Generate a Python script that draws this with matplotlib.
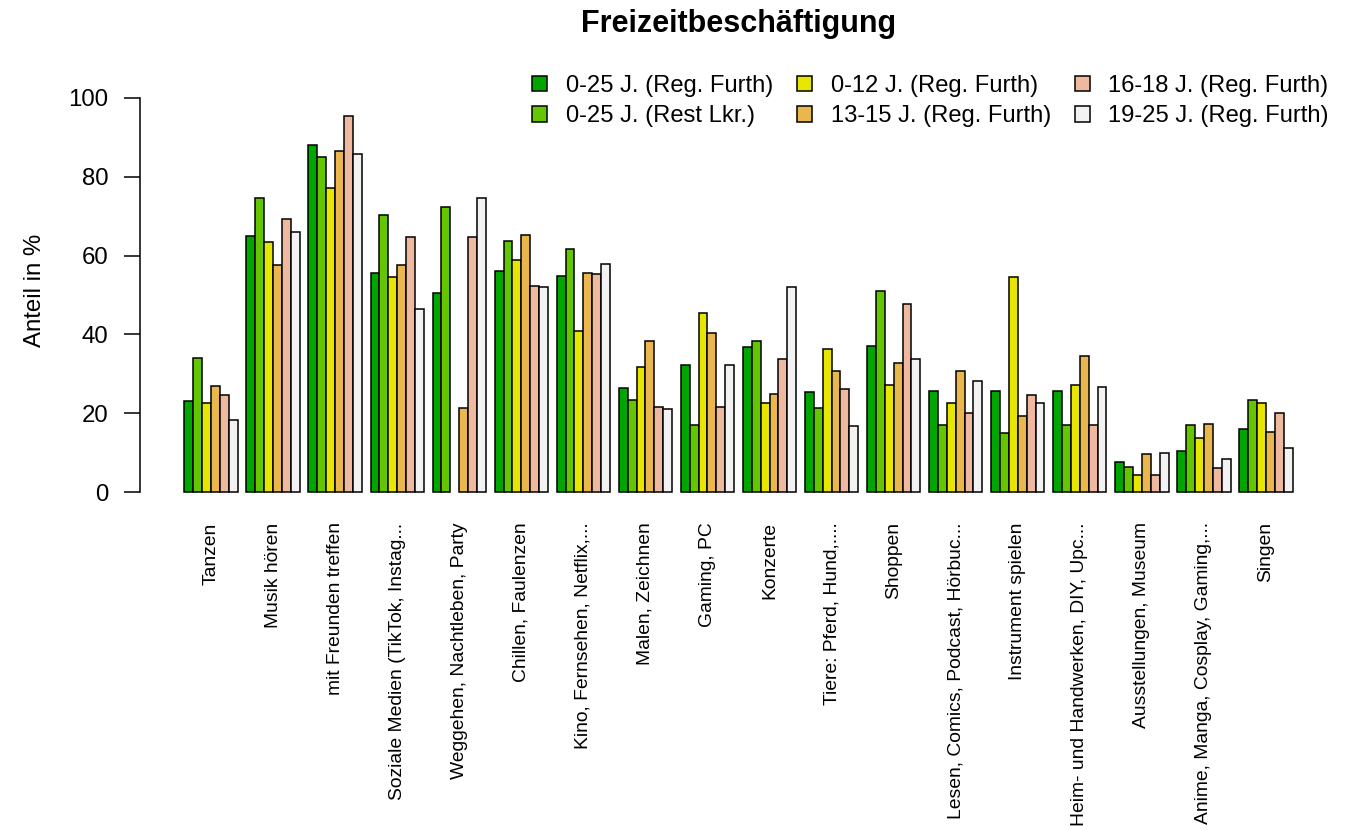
import numpy as np
import matplotlib
matplotlib.use("Agg")
import matplotlib.pyplot as plt

plt.rcParams['font.family'] = ['Liberation Sans', 'DejaVu Sans']

categories = [
    "Tanzen", "Musik hören", "mit Freunden treffen", "Soziale Medien (TikTok, Instag...",
    "Weggehen, Nachtleben, Party", "Chillen, Faulenzen", "Kino, Fernsehen, Netflix,...",
    "Malen, Zeichnen", "Gaming, PC", "Konzerte", "Tiere: Pferd, Hund,....", "Shoppen",
    "Lesen, Comics, Podcast, Hörbuc...", "Instrument spielen", "Heim- und Handwerken, DIY, Upc...",
    "Ausstellungen, Museum", "Anime, Manga, Cosplay, Gaming,...", "Singen",
]

series_names = [
    "0-25 J. (Reg. Furth)", "0-25 J. (Rest Lkr.)", "0-12 J. (Reg. Furth)",
    "13-15 J. (Reg. Furth)", "16-18 J. (Reg. Furth)", "19-25 J. (Reg. Furth)",
]

s_0_25_furth = [23.0, 65.0, 88.0, 55.7, 50.5, 56.2, 54.8, 26.5, 32.3, 36.7, 25.3, 37.1, 25.7, 25.7, 25.7, 7.5, 10.5, 16.1]
s_0_25_rest  = [34.0, 74.5, 85.0, 70.2, 72.3, 63.8, 61.7, 23.3, 16.9, 38.3, 21.3, 51.0, 17.0, 14.9, 17.0, 6.3, 17.0, 23.3]
s_0_12_furth = [22.7, 63.5, 77.2, 54.5, np.nan, 59.0, 40.8, 31.8, 45.4, 22.6, 36.3, 27.1, 22.6, 54.5, 27.1, 4.4, 13.6, 22.6]
s_13_15      = [27.0, 57.7, 86.5, 57.7, 21.2, 65.3, 55.7, 38.4, 40.3, 25.0, 30.6, 32.7, 30.6, 19.2, 34.6, 9.6, 17.2, 15.3]
s_16_18      = [24.7, 69.2, 95.3, 64.7, 64.7, 52.3, 55.3, 21.5, 21.6, 33.8, 26.1, 47.6, 20.0, 24.5, 17.0, 4.4, 6.1, 20.0]
s_19_25      = [18.3, 66.0, 85.8, 46.5, 74.7, 52.0, 57.8, 21.0, 32.3, 52.0, 16.8, 33.8, 28.2, 22.5, 26.7, 9.8, 8.4, 11.1]

series = [s_0_25_furth, s_0_25_rest, s_0_12_furth, s_13_15, s_16_18, s_19_25]
colors = ["#00A600", "#63C600", "#E6E600", "#EAB64E", "#EEB99F", "#F2F2F2"]
yticks = [0, 20, 40, 60, 80, 100]

W, H = 1356, 830
fig = plt.figure(figsize=(W / 100, H / 100), dpi=100)
ax_l, ax_r = 140, 1337
ax_t, ax_b = 82.2, 507.8
ax = fig.add_axes([ax_l / W, (H - ax_b) / H, (ax_r - ax_l) / W, (ax_b - ax_t) / H])

n_groups = len(categories)
n_series = len(series)
group_width = n_series + 1
for j, (vals, col, name) in enumerate(zip(series, colors, series_names)):
    lefts = [1 + g * group_width + j for g in range(n_groups)]
    ax.bar(lefts, vals, width=1.0, align='edge', color=col, edgecolor='black',
           linewidth=1.1, label=name)

ax.set_xlim(-4, 131)
ax.set_ylim(-4, 104)

centers = [1 + g * group_width + n_series / 2 for g in range(n_groups)]
ax.set_xticks(centers)
ax.set_xticklabels(categories, rotation=90, fontsize=13.9, va='top', ha='center')
ax.tick_params(axis='x', length=0, pad=10.5)

ax.set_yticks(yticks)
ax.set_yticklabels([str(t) for t in yticks], fontsize=17.3)
ax.tick_params(axis='y', length=11.5, width=1.1, pad=11, direction='out')

for s in ['top', 'right', 'bottom']:
    ax.spines[s].set_visible(False)
ax.spines['left'].set_bounds(0, 100)
ax.spines['left'].set_linewidth(1.1)

ax.set_ylabel("Anteil in %", fontsize=17.3)
ax.yaxis.set_label_coords((46 - ax_l) / (ax_r - ax_l), (ax_b - 290) / (ax_b - ax_t))

fig.text(739 / W, 1 - 24 / H, "Freizeitbeschäftigung", ha='center', va='center',
         fontsize=22, fontweight='bold')

leg = ax.legend(ncol=3, loc='upper right', bbox_to_anchor=(1329 / W, 1 - 75 / H),
                bbox_transform=fig.transFigure, frameon=False, fontsize=17.1,
                handlelength=0.62, handleheight=0.62, handletextpad=0.8,
                columnspacing=1.0, labelspacing=0.35, borderpad=0.0, borderaxespad=0.0)

fig.savefig("out.png", dpi=100)
